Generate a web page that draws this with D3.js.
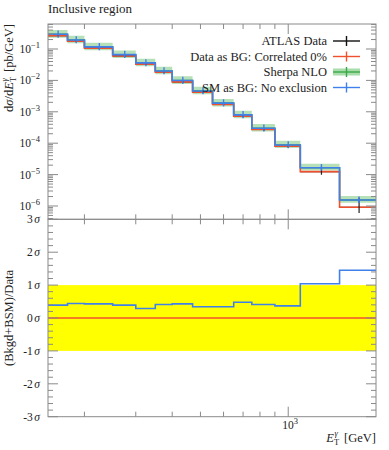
<!DOCTYPE html>
<html><head><meta charset="utf-8">
<script src="https://cdn.jsdelivr.net/npm/d3@7"></script>
<style>
body{margin:0;background:#fff;}
svg text{font-family:"Liberation Serif","DejaVu Serif","Times New Roman",serif;}
</style></head>
<body><svg id="c" width="389" height="450" font-family="Liberation Serif, DejaVu Serif, serif"></svg>
<script>
// ---- data ----
const binEdges = [150,175,200,250,300,350,400,470,550,650,750,900,1100,1500,2000];
const dataVals   = [0.267,0.176,0.106,0.060,0.033,0.0182,0.0090,0.0042,0.00172,0.00072,0.000273,8.0e-5,1.24e-5,9.1e-7];
const dataErrUp  = [0.08,0.08,0.08,0.08,0.08,0.08,0.08,0.09,0.09,0.10,0.11,0.13,0.45,1.0];
const dataErrDn  = [0.07,0.07,0.07,0.07,0.07,0.07,0.07,0.08,0.08,0.09,0.10,0.11,0.20,0.34];
const smVals     = [0.294,0.194,0.117,0.066,0.036,0.020,0.0099,0.0046,0.00189,0.00080,0.00030,8.8e-5,1.66e-5,1.55e-6];
const smErrUp    = [0.32,0.32,0.32,0.32,0.32,0.32,0.32,0.32,0.32,0.32,0.32,0.32,0.30,0.30];
const smErrDn    = [0.22,0.22,0.22,0.22,0.22,0.22,0.22,0.22,0.22,0.22,0.22,0.22,0.20,0.20];
const sherpaVals = [0.294,0.194,0.117,0.066,0.036,0.020,0.0099,0.0046,0.00189,0.00080,0.00030,8.8e-5,1.66e-5,1.55e-6];
const sherpaUp   = [0.38,0.36,0.36,0.36,0.36,0.36,0.36,0.36,0.36,0.36,0.36,0.35,0.34,0.34];
const sherpaDn   = [0.22,0.22,0.22,0.22,0.22,0.22,0.22,0.22,0.22,0.22,0.22,0.20,0.19,0.18];
const sigVals    = [0.39,0.44,0.43,0.39,0.29,0.41,0.43,0.34,0.34,0.48,0.41,0.37,1.04,1.45];
const dataSig    = [0,0,0,0,0,0,0,0,0,0,0,0,0,0];
const yTopExps   = [-1,-2,-3,-4,-5,-6];
const ySigTicks  = [3,2,1,0,-1,-2,-3];
const ySigLabels = ["3","2","1","0","-1","-2","-3"];
const xMinorTicks = [200,300,400,500,600,700,800,900];
const xMajorTicks = [1000];
const legendNames = ["ATLAS Data","Data as BG: Correlated 0%","Sherpa NLO","SM as BG: No exclusion"];

// ---- layout ----
const L=48, R=376, T=24, MID=219.3, B=416.7;
const axisCol="#8a8a8a", txtCol="#222";
const cBlue="#4080ea", cRed="#f0502e", cGreen="#3aa845", cBand="#a9dcab";
const FF="Liberation Serif, DejaVu Serif, serif";

const svg=d3.select("#c");
const x=d3.scaleLog().domain([150,2000]).range([L,R]);
const yT=d3.scaleLog().domain([3.77e-7,0.625]).range([MID,T]);
const yB=d3.scaleLinear().domain([-3,3]).range([B,MID]);

svg.append("defs").append("clipPath").attr("id","cpT").append("rect")
  .attr("x",L).attr("y",T).attr("width",R-L).attr("height",MID-T);
svg.select("defs").append("clipPath").attr("id","cpB").append("rect")
  .attr("x",L).attr("y",MID).attr("width",R-L).attr("height",B-MID);

function stepPts(vals){const p=vals.map((v,i)=>[binEdges[i],v]);p.push([binEdges[vals.length],vals[vals.length-1]]);return p;}
const lineT=d3.line().x(d=>x(d[0])).y(d=>yT(d[1])).curve(d3.curveStepAfter);
const lineB=d3.line().x(d=>x(d[0])).y(d=>yB(d[1])).curve(d3.curveStepAfter);
const ctr=i=>(binEdges[i]+binEdges[i+1])/2;

// ---- bottom panel ----
const gB=svg.append("g").attr("clip-path","url(#cpB)");
gB.append("rect").attr("x",L).attr("width",R-L).attr("y",yB(1)).attr("height",yB(-1)-yB(1)).attr("fill","#ffff00");
gB.append("path").attr("d",lineB(stepPts(dataSig))).attr("fill","none").attr("stroke",cRed).attr("stroke-width",1.5);
gB.append("path").attr("d",lineB(stepPts(sigVals))).attr("fill","none").attr("stroke",cBlue).attr("stroke-width",1.6);

// ---- top panel ----
const gT=svg.append("g").attr("clip-path","url(#cpT)");
const bandPts=sherpaVals.map((v,i)=>({x:binEdges[i],hi:v*(1+sherpaUp[i]),lo:v*(1-sherpaDn[i])}));
bandPts.push({x:binEdges[binEdges.length-1],hi:bandPts[bandPts.length-1].hi,lo:bandPts[bandPts.length-1].lo});
gT.append("path").attr("d",d3.area().x(d=>x(d.x)).y0(d=>yT(d.lo)).y1(d=>yT(d.hi)).curve(d3.curveStepAfter)(bandPts))
  .attr("fill",cBand).attr("opacity",0.85);
gT.append("path").attr("d",lineT(stepPts(sherpaVals))).attr("fill","none").attr("stroke",cGreen).attr("stroke-width",1.5);
gT.selectAll(".dh").data(dataVals).enter().append("line")
  .attr("x1",(d,i)=>x(binEdges[i])).attr("x2",(d,i)=>x(binEdges[i+1]))
  .attr("y1",d=>yT(d)).attr("y2",d=>yT(d)).attr("stroke","#111").attr("stroke-width",1.2);
gT.append("path").attr("d",lineT(stepPts(dataVals))).attr("fill","none").attr("stroke",cRed).attr("stroke-width",1.6);
gT.selectAll(".dv").data(dataVals).enter().append("line")
  .attr("x1",(d,i)=>x(ctr(i))).attr("x2",(d,i)=>x(ctr(i)))
  .attr("y1",(d,i)=>yT(d*(1+dataErrUp[i]))).attr("y2",(d,i)=>yT(d*(1-dataErrDn[i])))
  .attr("stroke","#222").attr("stroke-width",1.2);
gT.append("path").attr("d",lineT(stepPts(smVals))).attr("fill","none").attr("stroke",cBlue).attr("stroke-width",1.6);
gT.selectAll(".sv").data(smVals).enter().append("line")
  .attr("x1",(d,i)=>x(ctr(i))).attr("x2",(d,i)=>x(ctr(i)))
  .attr("y1",(d,i)=>yT(d*(1+smErrUp[i]))).attr("y2",(d,i)=>yT(d*(1-smErrDn[i])))
  .attr("stroke",cBlue).attr("stroke-width",1.4);

// ---- frames and ticks ----
const gA=svg.append("g").attr("stroke",axisCol).attr("fill","none");
gA.append("rect").attr("x",L).attr("y",T).attr("width",R-L).attr("height",MID-T).attr("stroke-width",1);
gA.append("rect").attr("x",L).attr("y",MID).attr("width",R-L).attr("height",B-MID).attr("stroke-width",1);
function xTicks(yEdge,dir){
  xMinorTicks.forEach(v=>gA.append("line").attr("x1",x(v)).attr("x2",x(v)).attr("y1",yEdge).attr("y2",yEdge+dir*5));
  xMajorTicks.forEach(v=>gA.append("line").attr("x1",x(v)).attr("x2",x(v)).attr("y1",yEdge).attr("y2",yEdge+dir*10));
}
xTicks(T,1); xTicks(MID,-1); xTicks(MID,1); xTicks(B,-1);
yT.ticks().forEach(v=>{
  const e=Math.log10(v), major=Math.abs(e-Math.round(e))<1e-9, len=major?10:5;
  gA.append("line").attr("x1",L).attr("x2",L+len).attr("y1",yT(v)).attr("y2",yT(v));
  gA.append("line").attr("x1",R).attr("x2",R-len).attr("y1",yT(v)).attr("y2",yT(v));
});
d3.range(-15,16).forEach(k=>{
  const v=k/5, major=k%5===0, len=major?10:5;
  gA.append("line").attr("x1",L).attr("x2",L+len).attr("y1",yB(v)).attr("y2",yB(v));
  gA.append("line").attr("x1",R).attr("x2",R-len).attr("y1",yB(v)).attr("y2",yB(v));
});

// ---- labels ----
const gL=svg.append("g").attr("fill",txtCol).attr("font-family",FF);
yTopExps.forEach(e=>{
  const t=gL.append("text").attr("x",40).attr("y",yT(Math.pow(10,e))+4).attr("text-anchor","end").attr("font-size",11.5);
  t.append("tspan").text("10");
  t.append("tspan").attr("dy",-5).attr("font-size",8.5).text("\u2212"+Math.abs(e));
});
ySigTicks.forEach((v,i)=>{
  const t=gL.append("text").attr("x",40).attr("y",yB(v)+4).attr("text-anchor","end").attr("font-size",11.5);
  t.append("tspan").text(ySigLabels[i]);
  t.append("tspan").attr("font-style","italic").attr("dx",1.5).text("\u03c3");
});
xMajorTicks.forEach(v=>{
  const t=gL.append("text").attr("x",x(v)+2).attr("y",429).attr("text-anchor","middle").attr("font-size",11.5);
  t.append("tspan").text("10");
  t.append("tspan").attr("dy",-5).attr("font-size",8.5).text(Math.round(Math.log10(v)));
});
gL.append("text").attr("x",48).attr("y",13).attr("font-size",13).text("Inclusive region");
{
  const t=gL.append("text").attr("x",376).attr("y",442).attr("text-anchor","end").attr("font-size",12.5);
  t.append("tspan").attr("font-style","italic").text("E");
  t.append("tspan").attr("font-size",8.5).attr("dy",3).text("T");
  t.append("tspan").attr("font-size",8.5).attr("dx",-4.5).attr("dy",-9).attr("font-style","italic").text("\u03b3");
  t.append("tspan").attr("dy",6).attr("dx",3).text("\u00a0[GeV]");
}
{
  const t=gL.append("text").attr("transform",`translate(13,${T}) rotate(-90)`).attr("text-anchor","end").attr("font-size",12.5);
  t.append("tspan").text("d");
  t.append("tspan").attr("font-style","italic").text("\u03c3");
  t.append("tspan").text("/d");
  t.append("tspan").attr("font-style","italic").text("E");
  t.append("tspan").attr("font-size",8.5).attr("dy",3).text("T");
  t.append("tspan").attr("font-size",8.5).attr("dx",-4.5).attr("dy",-9).attr("font-style","italic").text("\u03b3");
  t.append("tspan").attr("dy",6).attr("dx",3).text("\u00a0[pb/GeV]");
}
gL.append("text").attr("transform",`translate(13,${yB(0)}) rotate(-90)`).attr("text-anchor","middle").attr("font-size",12.5)
  .text("(Bkgd+BSM)/Data");

// ---- legend ----
const legY=[41,56.5,72,87.5], legCols=["#111",cRed,cGreen,cBlue];
legendNames.forEach((n,i)=>{
  const y=legY[i];
  gL.append("text").attr("x",327).attr("y",y+4).attr("text-anchor","end").attr("font-size",12.5).text(n);
  if(i===2) svg.append("rect").attr("x",333).attr("y",y-3.5).attr("width",27).attr("height",7).attr("fill",cBand);
  svg.append("line").attr("x1",333).attr("x2",360).attr("y1",y).attr("y2",y).attr("stroke",legCols[i]).attr("stroke-width",1.4);
  svg.append("line").attr("x1",346.5).attr("x2",346.5).attr("y1",y-5).attr("y2",y+5).attr("stroke",legCols[i]).attr("stroke-width",1.4);
});
</script></body></html>
